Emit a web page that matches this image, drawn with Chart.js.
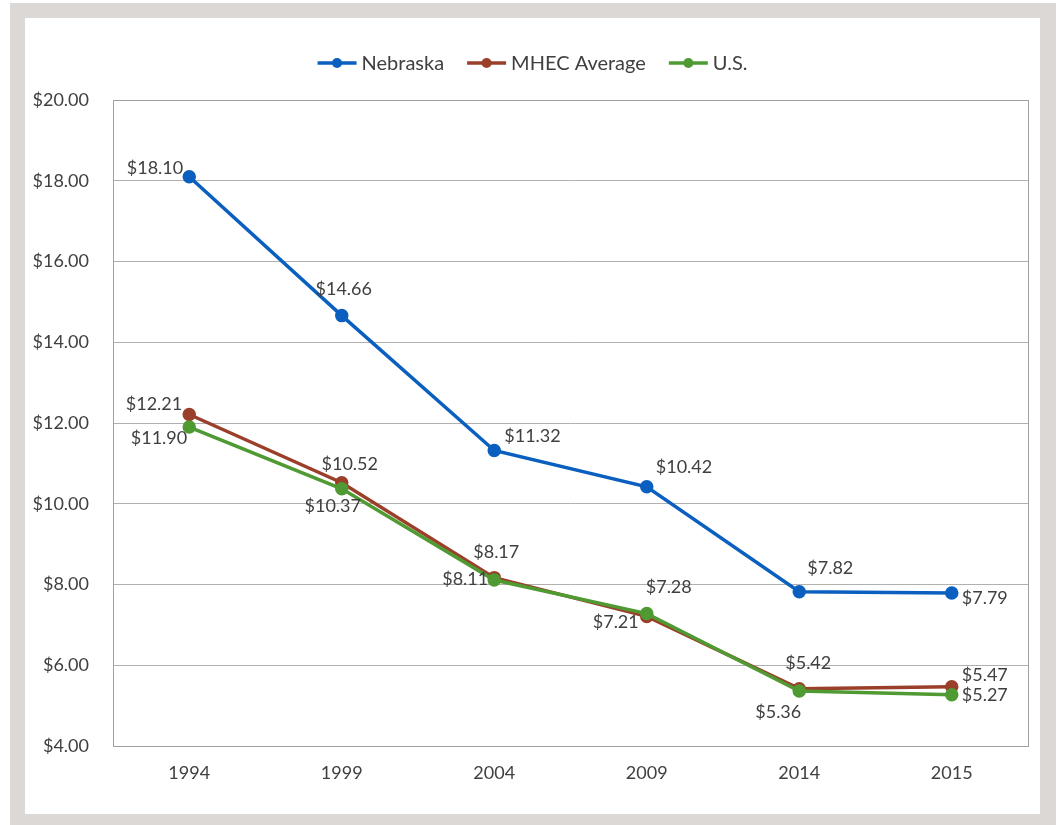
<!DOCTYPE html>
<html>
<head>
<meta charset="utf-8">
<script src="https://cdn.jsdelivr.net/npm/chart.js@4"></script>
<style>
  html, body { margin: 0; padding: 0; background: #ffffff; }
  #frame { position: absolute; left: 10px; top: 3px; width: 1046px; height: 830px; background: #dcd8d5; }
  #inner { position: absolute; left: 15px; top: 15px; width: 1015px; height: 796px; background: #ffffff; }
  canvas { display: block; }
</style>
</head>
<body>
<div id="frame"><div id="inner"><canvas id="c" width="1015" height="796"></canvas></div></div>
<script>
const categories = ['1994', '1999', '2004', '2009', '2014', '2015'];
const seriesNames = ['Nebraska', 'MHEC Average', 'U.S.'];
const nebraska = [18.10, 14.66, 11.32, 10.42, 7.82, 7.79];
const mhecAverage = [12.21, 10.52, 8.17, 7.21, 5.42, 5.47];
const us = [11.90, 10.37, 8.11, 7.28, 5.36, 5.27];
const yTicks = [4, 6, 8, 10, 12, 14, 16, 18, 20];

const colors = ['#0a5fbf', '#9a3f2a', '#4f9a32'];
const FONT = 'Lato, "Open Sans", sans-serif';
const TEXT = '#404040';

// label placement (style): [dx, dy, align] relative to point
const labelPlacement = [
  [[-6, -9, 'right'], [2, -26, 'center'], [10, -14, 'left'], [9, -20, 'left'], [8, -24, 'left'], [10, 5, 'left']],
  [[-7, -10, 'right'], [8, -19, 'center'], [2, -25, 'center'], [-31, 6, 'center'], [9, -25, 'center'], [10, -11, 'left']],
  [[-2, 11, 'right'], [-9, 17, 'center'], [-6, -1, 'right'], [22, -26, 'center'], [-21, 21, 'center'], [10, 0, 'left']]
];

const fmt = v => '$' + v.toFixed(2);

const frameBox = {
  id: 'frameBox',
  beforeDatasetsDraw(chart) {
    const a = chart.chartArea, ctx = chart.ctx;
    ctx.save();
    ctx.strokeStyle = '#a0a0a0';
    ctx.lineWidth = 1;
    ctx.strokeRect(Math.round(a.left) + 0.5, Math.round(a.top) + 0.5, Math.round(a.right - a.left), Math.round(a.bottom - a.top));
    ctx.restore();
  }
};

const dataLabels = {
  id: 'dataLabels',
  afterDatasetsDraw(chart) {
    const ctx = chart.ctx;
    ctx.save();
    ctx.font = '18px ' + FONT;
    ctx.fillStyle = TEXT;
    ctx.textBaseline = 'middle';
    chart.data.datasets.forEach((ds, di) => {
      const meta = chart.getDatasetMeta(di);
      meta.data.forEach((pt, i) => {
        const [dx, dy, align] = labelPlacement[di][i];
        ctx.textAlign = align;
        ctx.fillText(fmt(ds.data[i]), pt.x + dx, pt.y + dy);
      });
    });
    ctx.restore();
  }
};

const customLegend = {
  id: 'customLegend',
  afterDraw(chart) {
    const ctx = chart.ctx;
    ctx.save();
    ctx.font = '20px ' + FONT;
    const lineLen = 39, gapText = 5, gapItem = 23;
    const items = chart.data.datasets.map(ds => ({ label: ds.label, color: ds.borderColor, w: ctx.measureText(ds.label).width }));
    let total = 0;
    items.forEach((it, i) => { total += lineLen + gapText + it.w + (i < items.length - 1 ? gapItem : 0); });
    let x = chart.width / 2 - total / 2;
    const y = 45;
    items.forEach(it => {
      ctx.strokeStyle = it.color;
      ctx.lineWidth = 3.5;
      ctx.beginPath();
      ctx.moveTo(x, y); ctx.lineTo(x + lineLen, y);
      ctx.stroke();
      ctx.fillStyle = it.color;
      ctx.beginPath();
      ctx.arc(x + lineLen / 2, y, 5, 0, Math.PI * 2);
      ctx.fill();
      ctx.fillStyle = TEXT;
      ctx.textAlign = 'left';
      ctx.textBaseline = 'middle';
      ctx.fillText(it.label, x + lineLen + gapText, y + 1);
      x += lineLen + gapText + it.w + gapItem;
    });
    ctx.restore();
  }
};

const seriesData = [nebraska, mhecAverage, us];
const datasets = seriesNames.map((name, i) => ({
  label: name,
  data: seriesData[i],
  borderColor: colors[i],
  backgroundColor: colors[i],
  pointBackgroundColor: colors[i],
  pointBorderColor: colors[i],
  borderWidth: 3.5,
  pointRadius: 5,
  pointHoverRadius: 5,
  tension: 0,
  order: 2 - i
}));

new Chart(document.getElementById('c'), {
  type: 'line',
  data: { labels: categories, datasets },
  plugins: [frameBox, dataLabels, customLegend],
  options: {
    responsive: false,
    animation: false,
    events: [],
    layout: { padding: { top: 82, right: 12, left: 0, bottom: 0 } },
    plugins: { legend: { display: false }, tooltip: { enabled: false } },
    scales: {
      x: {
        offset: true,
        grid: { display: false, drawTicks: false },
        border: { display: false },
        ticks: { color: TEXT, font: { family: FONT, size: 18 }, padding: 16, maxRotation: 0 },
        afterFit(axis) { axis.height = 68; }
      },
      y: {
        min: 4, max: 20,
        afterBuildTicks(axis) { axis.ticks = yTicks.map(v => ({ value: v })); },
        grid: { color: '#b0b0b0', lineWidth: 1, drawTicks: false },
        border: { display: false },
        ticks: { color: TEXT, font: { family: FONT, size: 18 }, padding: 24, callback: v => fmt(v) },
        afterFit(axis) { axis.width = 88; }
      }
    }
  }
});
</script>
</body>
</html>
